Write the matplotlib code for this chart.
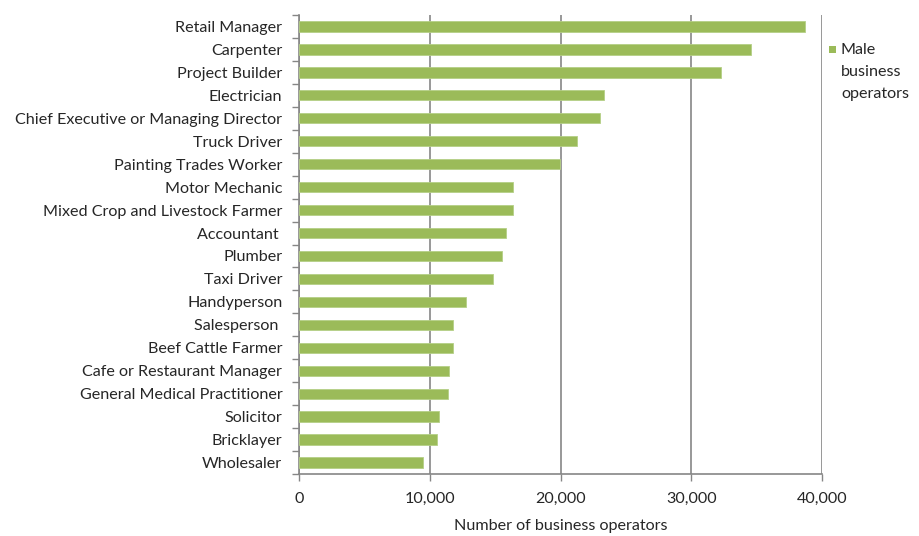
import matplotlib
matplotlib.use("Agg")
import matplotlib.pyplot as plt
from matplotlib.patches import Rectangle
import numpy as np

occupations = [
    "Retail Manager", "Carpenter", "Project Builder", "Electrician",
    "Chief Executive or Managing Director", "Truck Driver",
    "Painting Trades Worker", "Motor Mechanic",
    "Mixed Crop and Livestock Farmer", "Accountant ", "Plumber",
    "Taxi Driver", "Handyperson", "Salesperson ", "Beef Cattle Farmer",
    "Cafe or Restaurant Manager", "General Medical Practitioner",
    "Solicitor", "Bricklayer", "Wholesaler",
]
male_operators = [
    38700, 34600, 32300, 23300, 23000, 21300, 19950, 16350, 16350, 15800,
    15500, 14850, 12750, 11780, 11780, 11500, 11370, 10680, 10530, 9450,
]
series_name = "Male\nbusiness\noperators"
x_ticks = [0, 10000, 20000, 30000, 40000]
x_tick_labels = ["0", "10,000", "20,000", "30,000", "40,000"]

BAR = "#9BBB59"
TEXT = "#262626"
GRID = "#868686"
FS = 11.6

plt.rcParams["font.family"] = ["Lato", "DejaVu Sans"]

fig = plt.figure(figsize=(9.2, 5.36), dpi=100)
ax = fig.add_axes([299 / 920, 1 - 474 / 536, (822 - 299) / 920, (474 - 15) / 536])

n = len(occupations)
y = np.arange(n)
ax.barh(y, male_operators, height=0.45, color=BAR,
        edgecolor="#B5CF86", linewidth=0.6, zorder=3)

ax.set_xlim(0, 40000)
ax.set_ylim(n - 0.5, -0.5)
ax.set_xticks(x_ticks)
ax.set_xticklabels(x_tick_labels, fontsize=FS, color=TEXT)
ax.set_yticks(y)
ax.set_yticklabels(occupations, fontsize=FS, color=TEXT)
ax.tick_params(axis="y", length=0, pad=12)
ax.tick_params(axis="x", length=5, width=1, color=GRID, direction="out", pad=8)

# category separator ticks on the category axis
ax.set_yticks(np.arange(-0.5, n, 1.0), minor=True)
ax.tick_params(axis="y", which="minor", length=5, width=1, color=GRID)

ax.grid(axis="x", color=GRID, linewidth=1.2, zorder=0)
for side in ("top", "right"):
    ax.spines[side].set_visible(False)
for side in ("left", "bottom"):
    ax.spines[side].set_color(GRID)
    ax.spines[side].set_linewidth(1.2)

ax.set_xlabel("Number of business operators", fontsize=FS, color=TEXT, labelpad=9)

# legend: swatch beside the first line of the series name
fig.patches.append(Rectangle((829 / 920, 1 - 53 / 536), 7 / 920, 7 / 536,
                             transform=fig.transFigure, facecolor=BAR,
                             edgecolor="none", figure=fig))
fig.text(841 / 920, 1 - 43 / 536, series_name, fontsize=FS, color=TEXT,
         va="top", ha="left", linespacing=1.72)

fig.savefig("out.png", dpi=100, facecolor="white")
